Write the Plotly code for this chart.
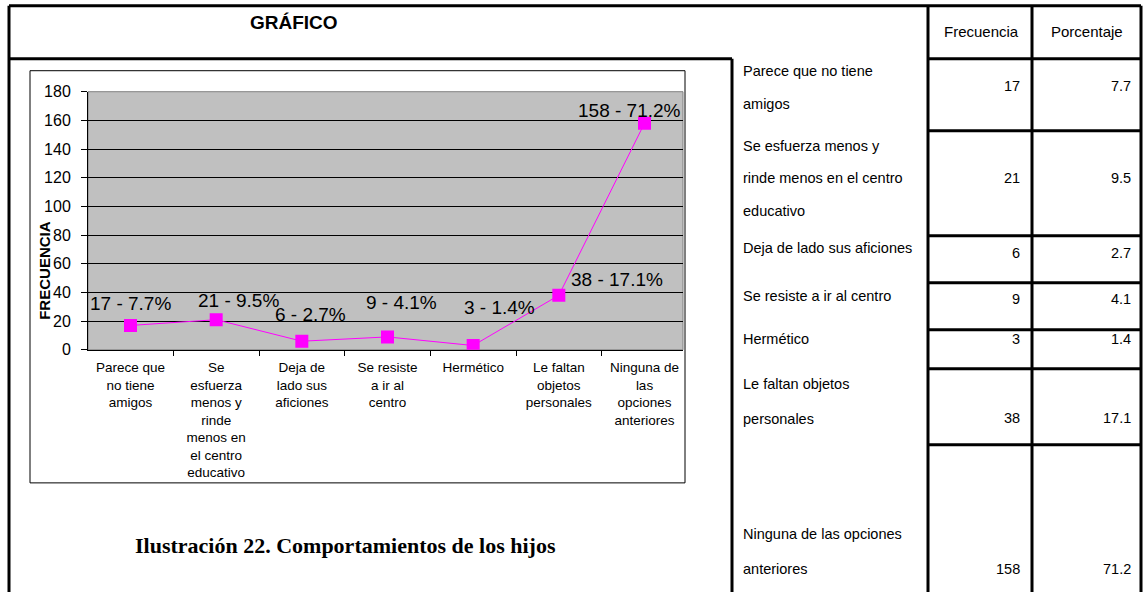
import plotly.graph_objects as go

# data
categories = [
    "Parece que no tiene amigos",
    "Se esfuerza menos y rinde menos en el centro educativo",
    "Deja de lado sus aficiones",
    "Se resiste a ir al centro",
    "Hermético",
    "Le faltan objetos personales",
    "Ninguna de las opciones anteriores",
]
tick_labels = [
    "Parece que<br>no tiene<br>amigos",
    "Se<br>esfuerza<br>menos y<br>rinde<br>menos en<br>el centro<br>educativo",
    "Deja de<br>lado sus<br>aficiones",
    "Se resiste<br>a ir al<br>centro",
    "Hermético",
    "Le faltan<br>objetos<br>personales",
    "Ninguna de<br>las<br>opciones<br>anteriores",
]
frecuencia = [17, 21, 6, 9, 3, 38, 158]
porcentaje = [7.7, 9.5, 2.7, 4.1, 1.4, 17.1, 71.2]
table_lines = [
    ["Parece que no tiene", "amigos"],
    ["Se esfuerza menos y", "rinde menos en el centro", "educativo"],
    ["Deja de lado sus aficiones"],
    ["Se resiste a ir al centro"],
    ["Hermético"],
    ["Le faltan objetos", "personales"],
    ["Ninguna de las opciones", "anteriores"],
]

# layout, in pixels of the 1144 x 592 reference
W, H = 1144, 616
TOP = 8            # figure rows placed above the window
Y0, YK = 7.1, 0.972  # how page rows end up in the photographed picture
label_shift = [(0, 21), (22, 19), (9, 26), (14, 33), (26, 37), (58, 15), (-15, 12)]
line_y = [[70, 103], [145, 177, 210], [247], [295], [338], [383, 418], [533, 568]]
value_y = [85, 177, 252, 298, 338, 417, 568]
row_lines = [58, 130, 235, 282, 329, 368, 444]


def px(x):
    return x / W


def py(y):
    page = (y - Y0) / YK
    return 1 - (page + TOP) / H


def note(x, y, text, size, xanchor="center", family="Arial", **kw):
    return dict(x=px(x), y=py(y), xref="paper", yref="paper", text=text,
                xanchor=xanchor, yanchor="middle", showarrow=False,
                font=dict(family=family, size=size, color="black"), **kw)


fig = go.Figure()
fig.add_trace(
    go.Scatter(
        x=tick_labels,
        y=frecuencia,
        mode="lines+markers",
        line=dict(color="#FF00FF", width=1),
        marker=dict(symbol="square", size=13, color="#FF00FF"),
        hoverinfo="skip",
        showlegend=False,
    )
)

annotations = []
for lab, f, p, (dx, dy) in zip(tick_labels, frecuencia, porcentaje, label_shift):
    annotations.append(
        dict(
            x=lab, y=f, xref="x", yref="y",
            text=f"{f} - {p}%", showarrow=False,
            xanchor="center", yanchor="middle",
            xshift=dx, yshift=dy / YK,
            font=dict(family="Arial", size=19, color="black"),
        )
    )

# texts of the surrounding table
annotations.append(note(294, 22, "<b>GRÁFICO</b>", 19))
annotations.append(note(981, 31, "Frecuencia", 15))
annotations.append(note(1087, 31, "Porcentaje", 15))
for lines, ys in zip(table_lines, line_y):
    for t, yy in zip(lines, ys):
        annotations.append(note(741, yy, t, 14.5, xanchor="left"))
for f, p, yy in zip(frecuencia, porcentaje, value_y):
    annotations.append(note(1022, yy, str(f), 14.5, xanchor="right"))
    annotations.append(note(1133, yy, str(p), 14.5, xanchor="right"))

annotations.append(note(45, 270, "<b>FRECUENCIA</b>", 15, textangle=-90))
annotations.append(note(345, 545, "<b>Ilustración 22. Comportamientos de los hijos</b>", 22,
                        family="Times New Roman, Liberation Serif, serif"))

thick = dict(color="black", width=3)


def seg(x0, y0, x1, y1, line=thick):
    return dict(type="line", xref="paper", yref="paper",
                x0=px(x0), x1=px(x1), y0=py(y0), y1=py(y1), line=line)


shapes = [
    # chart frame and plot border
    dict(type="rect", xref="paper", yref="paper", x0=px(30), x1=px(685), y0=py(482), y1=py(70),
         line=dict(color="black", width=1)),
    dict(type="rect", xref="paper", yref="paper", x0=px(88), x1=px(683), y0=py(349), y1=py(91),
         line=dict(color="#808080", width=1), layer="below"),
    # table borders
    seg(9, 5, 9, 600),
    seg(9, 5, 1141, 5),
    seg(1141, 5, 1141, 600),
    seg(9, 58, 732, 58),
    seg(732, 58, 732, 600),
    seg(928, 5, 928, 600),
    seg(1032, 5, 1032, 600),
]
for yy in row_lines:
    shapes.append(seg(928, yy, 1141, yy))

fig.update_layout(
    width=W,
    height=H,
    margin=dict(l=0, r=0, t=0, b=0),
    paper_bgcolor="white",
    plot_bgcolor="#C0C0C0",
    font=dict(family="Arial", color="black"),
    xaxis=dict(
        domain=[px(88), px(683)],
        type="category",
        showline=True, linecolor="black", linewidth=1,
        ticks="outside", tickson="boundaries", ticklen=5, tickcolor="black",
        showgrid=False,
        tickfont=dict(family="Arial", size=13.5),
        tickangle=0,
        ticklabelstandoff=5,
    ),
    yaxis=dict(
        domain=[py(349), py(91)],
        range=[0, 180], dtick=20,
        showline=True, linecolor="black", linewidth=1,
        ticks="outside", ticklen=6, tickcolor="black",
        showgrid=True, gridcolor="black", gridwidth=1,
        zeroline=False,
        tickfont=dict(family="Arial", size=16),
        ticklabelstandoff=7,
    ),
    annotations=annotations,
    shapes=shapes,
)

# pin the figure to the window corner so the browser margin does not move it
pin = """
document.documentElement.style.overflow = 'hidden';
document.body.style.margin = '0';
document.body.style.overflow = 'hidden';
var gd = document.querySelector('.plotly-graph-div');
gd.style.position = 'fixed';
gd.style.left = '0px';
gd.style.top = '-%dpx';
""" % TOP
fig.write_html("out.html", config={"displayModeBar": False}, post_script=pin)
